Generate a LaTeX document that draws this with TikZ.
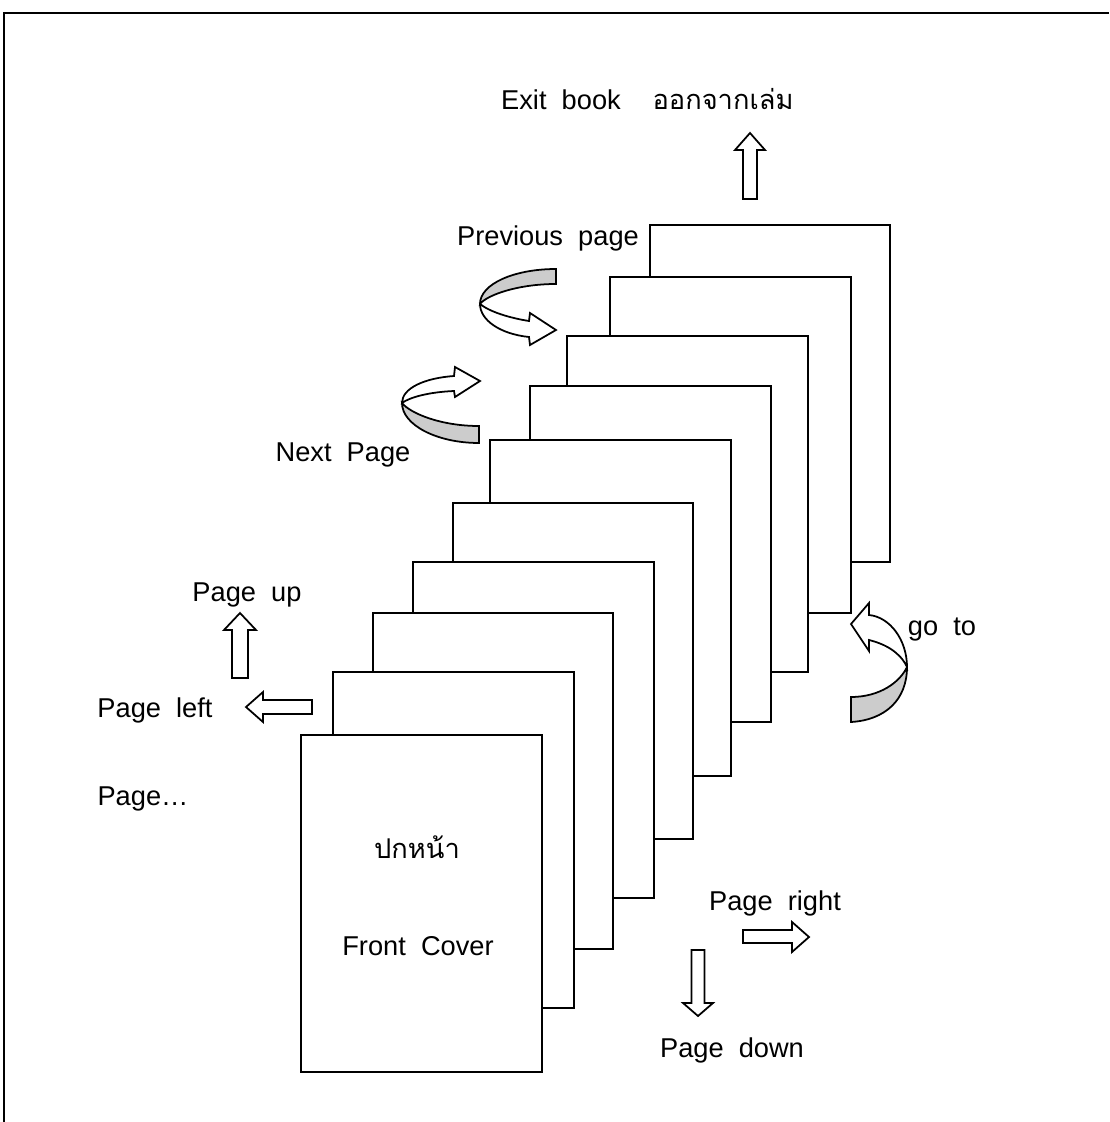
\documentclass[tikz,border=0pt]{standalone}
\usepackage{fontspec}
\setmainfont{Liberation Sans}
\newfontfamily\thaifont[Script=Thai]{Loma}
\definecolor{ribbon}{RGB}{204,204,204}
\begin{document}
\begin{tikzpicture}[x=0.02cm,y=-0.02cm, line width=1.1pt, line join=miter,
  lbl/.style={font=\fontsize{15.5}{18}\selectfont, inner sep=0pt, anchor=base},
  pagebox/.style={draw, fill=white},
  blockarrow/.style={draw, fill=white, line width=1pt},
  ribbonback/.style={draw, fill=ribbon, line width=1pt},
  ribbonfront/.style={draw, fill=white, line width=1pt}]
\useasboundingbox (0,0) rectangle (1109,1122);
% outer frame (open at right and bottom)
\draw[line width=1.3pt] (4,1122) -- (4,13) -- (1109,13);

% stack of pages, back to front
\foreach \l/\t/\r/\b in {650/225/890/562, 610/277/851/613, 567/336/808/672,
  530/386/771/722, 490/440/731/776, 453/503/693/839, 413/562/654/898,
  373/613/613/949, 333/672/574/1008, 301/735/542/1072}
  \draw[pagebox] (\l,\t) rectangle (\r,\b);

% labels
\node[lbl] (exit) at (561,110) {Exit~~book};
\node[lbl, font=\thaifont\fontsize{15.5}{18}\selectfont] (exitth) at (723,110) {ออกจากเล่ม};
\node[lbl] (prev) at (548,245) {Previous~~page};
\node[lbl] (next) at (343,461) {Next~~Page};
\node[lbl] (pup) at (247,601) {Page~~up};
\node[lbl] (pleft) at (155,717) {Page~~left};
\node[lbl] (pdots) at (143,805) {Page\ldots};
\node[lbl, font=\thaifont\fontsize{15.5}{18}\selectfont] (coverth) at (417,858) {ปกหน้า};
\node[lbl] (cover) at (418,955) {Front~~Cover};
\node[lbl] (pright) at (775,910) {Page~~right};
\node[lbl] (pdown) at (732,1057) {Page~~down};
\node[lbl] (goto) at (942,635) {go~~to};

% block arrows
\draw[blockarrow] (743,199) -- (743,150) -- (735,150) -- (750,133) -- (765,150) -- (757,150) -- (757,199) -- cycle;
\draw[blockarrow] (232,678) -- (232,630) -- (224,630) -- (240,613) -- (256,630) -- (248,630) -- (248,678) -- cycle;
\draw[blockarrow] (312,700) -- (263,700) -- (263,692) -- (246,707) -- (263,722) -- (263,714) -- (312,714) -- cycle;
\draw[blockarrow] (743,930) -- (792,930) -- (792,922) -- (809,937) -- (792,952) -- (792,943) -- (743,943) -- cycle;
\draw[blockarrow] (691.5,950) -- (691.5,1003) -- (683,1003) -- (698,1016) -- (713,1003) -- (704.5,1003) -- (704.5,950) -- cycle;

% previous page ribbon arrow
\draw[ribbonback] (556,269) .. controls (514,269) and (480,284) .. (480,304)
  .. controls (487,295) and (518,284) .. (556,284) -- cycle;
\draw[ribbonfront] (480,304) .. controls (480,320) and (500,334) .. (529,337)
  -- (530,345) -- (556,330) -- (530,313) -- (529,321)
  .. controls (510,318) and (490,312) .. (480,304) -- cycle;

% next page ribbon arrow
\draw[ribbonback] (479,443) .. controls (437,443) and (402,425) .. (402,403)
  .. controls (410,413) and (440,426) .. (479,426) -- cycle;
\draw[ribbonfront] (402,403) .. controls (402,388) and (425,378) .. (454,376)
  -- (455,367) -- (480,381) -- (455,397) -- (454,391)
  .. controls (430,392) and (410,397) .. (402,403) -- cycle;

% go to ribbon arrow
\draw[ribbonback] (851,722) .. controls (885,720) and (907,700) .. (907,667)
  .. controls (900,682) and (880,697) .. (851,697) -- cycle;
\draw[ribbonfront] (907,667) .. controls (907,640) and (890,617) .. (869,615)
  -- (869,603) -- (851,624) -- (869,651) -- (869,640)
  .. controls (885,644) and (900,652) .. (907,667) -- cycle;
\end{tikzpicture}
\end{document}
